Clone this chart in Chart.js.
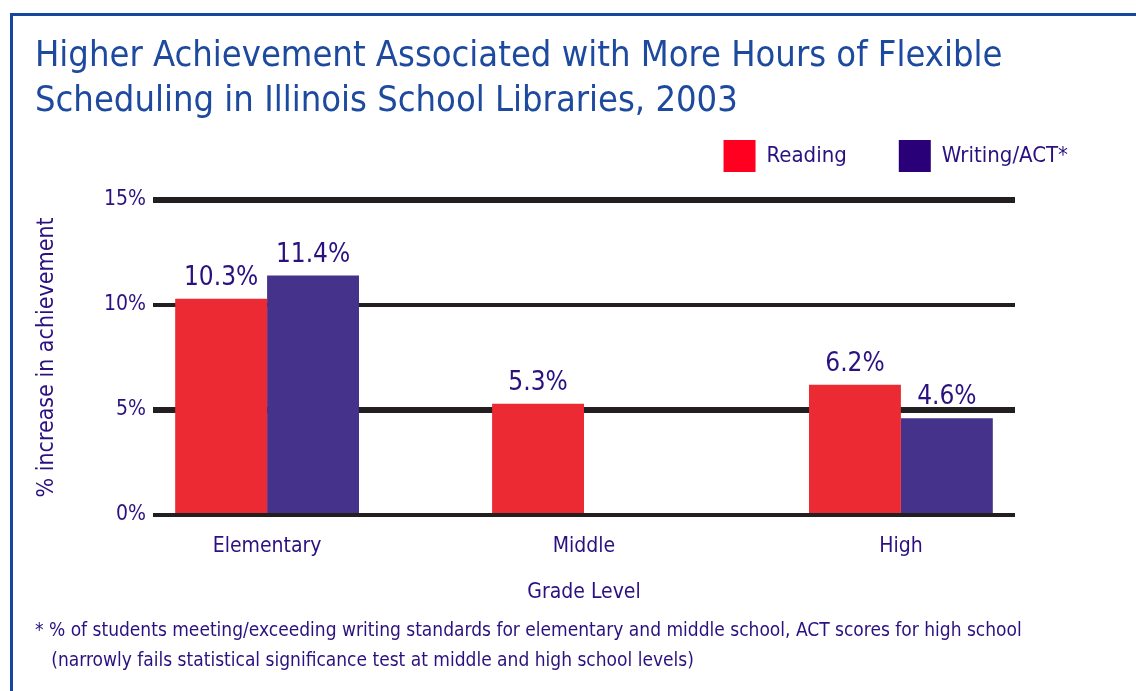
<!DOCTYPE html>
<html>
<head>
<meta charset="utf-8">
<style>
  html, body { margin: 0; padding: 0; background: #ffffff; }
  canvas { display: block; }
</style>
<script src="https://cdn.jsdelivr.net/npm/chart.js@4.4.1/dist/chart.umd.min.js"></script>
</head>
<body>
<canvas id="chart" width="1136" height="691"></canvas>
<script>
// Grade levels and the percentage increase in achievement per subject
const categories = ['Elementary', 'Middle', 'High'];
const reading = [10.3, 5.3, 6.2];
const writingAct = [11.4, null, 4.6];
const seriesNames = ['Reading', 'Writing/ACT*'];
const yTickValues = [0, 5, 10, 15];
const titleLines = [
  'Higher Achievement Associated with More Hours of Flexible',
  'Scheduling in Illinois School Libraries, 2003'
];
const footnoteLines = [
  '* % of students meeting/exceeding writing standards for elementary and middle school, ACT scores for high school',
  '   (narrowly fails statistical significance test at middle and high school levels)'
];
const yAxisTitle = '% increase in achievement';
const xAxisTitle = 'Grade Level';

// Styling
const FONT = "'Liberation Sans Narrow', 'DejaVu Sans Condensed', 'Arial Narrow', sans-serif";
const INK = '#2b1180';
const TITLE_BLUE = '#1d4a9e';
const FRAME_BLUE = '#1546a0';
const BAR_COLORS = ['#ec2a33', '#45338b'];
const KEY_COLORS = ['#ff0020', '#290078'];
const GRID_DARK = '#231f20';
const GRID_WIDTHS = [4, 6, 4, 6];

const toPoints = values => values.map((v, i) => ({ x: i + 1, y: v }));

// Thin blue frame along the top and left edge of the figure
const framePlugin = {
  id: 'frame',
  beforeDraw(chart) {
    const { ctx, width, height } = chart;
    ctx.save();
    ctx.fillStyle = '#ffffff';
    ctx.fillRect(0, 0, width, height);
    ctx.strokeStyle = FRAME_BLUE;
    ctx.lineWidth = 3;
    ctx.beginPath();
    ctx.moveTo(width, 14.5);
    ctx.lineTo(11.5, 14.5);
    ctx.lineTo(11.5, height);
    ctx.stroke();
    ctx.restore();
  }
};

// Percentage printed above every bar
const valueLabelPlugin = {
  id: 'valueLabels',
  afterDatasetsDraw(chart) {
    const { ctx } = chart;
    ctx.save();
    ctx.font = `normal 26px ${FONT}`;
    ctx.fillStyle = INK;
    ctx.textAlign = 'center';
    ctx.textBaseline = 'alphabetic';
    chart.data.datasets.forEach((ds, di) => {
      const meta = chart.getDatasetMeta(di);
      meta.data.forEach((bar, i) => {
        const v = ds.data[i].y;
        if (v === null || v === undefined) return;
        ctx.fillText(v.toFixed(1) + '%', bar.x, bar.y - 14);
      });
    });
    ctx.restore();
  }
};

new Chart(document.getElementById('chart'), {
  type: 'bar',
  data: {
    datasets: [
      { label: seriesNames[0], data: toPoints(reading), backgroundColor: BAR_COLORS[0], borderWidth: 0 },
      { label: seriesNames[1], data: toPoints(writingAct), backgroundColor: BAR_COLORS[1], borderWidth: 0 }
    ]
  },
  options: {
    responsive: false,
    animation: false,
    devicePixelRatio: 1,
    layout: { padding: { top: 10, left: 35, right: 16, bottom: 0 } },
    datasets: { bar: { categoryPercentage: 0.58, barPercentage: 1.0 } },
    scales: {
      x: {
        type: 'linear',
        position: 'bottom',
        offset: false,
        min: 0.64,
        max: 3.36,
        grid: { display: false, offset: false },
        border: { display: false },
        afterBuildTicks: scale => { scale.ticks = categories.map((_, i) => ({ value: i + 1 })); },
        afterFit: scale => { scale.height = 100; },
        ticks: {
          padding: 11,
          color: INK,
          font: { family: FONT, size: 21 },
          callback: v => categories[Math.round(v) - 1] || ''
        },
        title: {
          display: true,
          text: xAxisTitle,
          color: INK,
          font: { family: FONT, size: 21 },
          padding: { top: 0, bottom: 10 }
        }
      },
      xTop: {
        type: 'linear',
        position: 'top',
        min: 0,
        max: 1,
        grid: { display: false },
        border: { display: false },
        ticks: { display: false },
        afterFit: scale => { scale.height = 18; }
      },
      y: {
        min: 0,
        max: 15,
        position: 'left',
        afterBuildTicks: scale => { scale.ticks = yTickValues.map(v => ({ value: v })); },
        afterFit: scale => { scale.width = 118; },
        grid: {
          color: GRID_DARK,
          lineWidth: ctx => GRID_WIDTHS[ctx.index] || 4,
          drawTicks: false
        },
        border: { display: false },
        ticks: {
          padding: 7,
          color: INK,
          font: { family: FONT, size: 21 },
          callback: v => v + '%'
        },
        title: {
          display: true,
          text: yAxisTitle,
          color: INK,
          font: { family: FONT, size: 23 },
          padding: { top: -2, bottom: 0 }
        }
      },
      yRight: {
        type: 'linear',
        position: 'right',
        min: 0,
        max: 1,
        grid: { display: false },
        border: { display: false },
        ticks: { display: false },
        afterFit: scale => { scale.width = 105; }
      }
    },
    plugins: {
      title: {
        display: true,
        text: titleLines,
        align: 'start',
        color: TITLE_BLUE,
        font: { family: FONT, size: 36, weight: 'normal', lineHeight: 1.25 },
        padding: { top: 24, bottom: -36 }
      },
      subtitle: {
        display: true,
        position: 'bottom',
        text: footnoteLines,
        align: 'start',
        color: INK,
        font: { family: FONT, size: 19, lineHeight: 1.58 },
        padding: { top: 1, bottom: 15 }
      },
      legend: {
        display: true,
        position: 'top',
        align: 'end',
        labels: {
          boxWidth: 32,
          boxHeight: 32,
          padding: 52,
          color: INK,
          font: { family: FONT, size: 22 },
          generateLabels: chart => chart.data.datasets.map((ds, i) => ({
            text: ds.label,
            fillStyle: KEY_COLORS[i],
            strokeStyle: KEY_COLORS[i],
            lineWidth: 0,
            fontColor: INK,
            hidden: false,
            datasetIndex: i
          }))
        }
      },
      tooltip: { enabled: false }
    }
  },
  plugins: [framePlugin, valueLabelPlugin]
});
</script>
</body>
</html>
